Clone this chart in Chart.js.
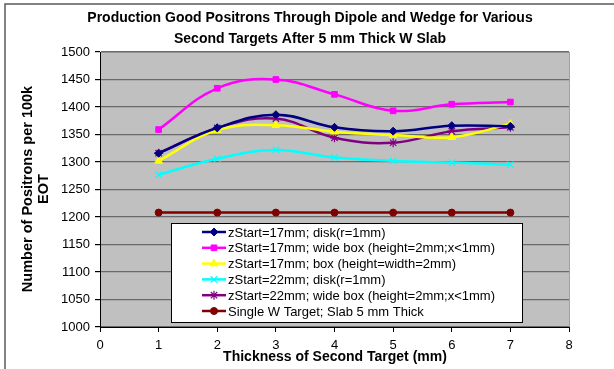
<!DOCTYPE html>
<html>
<head>
<meta charset="utf-8">
<script src="https://cdn.jsdelivr.net/npm/chart.js@4/dist/chart.umd.min.js"></script>
<style>
  html, body { margin: 0; padding: 0; background: #fff; }
  canvas { display: block; }
</style>
</head>
<body>
<canvas id="chart" width="614" height="369"></canvas>
<script>
const thickness = [1, 2, 3, 4, 5, 6, 7];
const z17Disk = [1316, 1362, 1386, 1363, 1356, 1366, 1365];
const z17WideBox = [1359, 1434, 1450, 1423, 1393, 1405, 1409];
const z17Box = [1302, 1358, 1367, 1355, 1349, 1345, 1369];
const z22Disk = [1277, 1306, 1322, 1308, 1302, 1299, 1295];
const z22WideBox = [1316, 1362, 1379, 1344, 1335, 1356, 1363];
const singleW = [1208, 1208, 1208, 1208, 1208, 1208, 1208];

const seriesNames = [
  'zStart=17mm; disk(r=1mm)',
  'zStart=17mm; wide box (height=2mm;x<1mm)',
  'zStart=17mm; box (height=width=2mm)',
  'zStart=22mm; disk(r=1mm)',
  'zStart=22mm; wide box (height=2mm;x<1mm)',
  'Single W Target; Slab 5 mm Thick'
];
const titleLines = ['Production Good Positrons Through Dipole and Wedge for Various', 'Second Targets After 5 mm Thick W Slab'];
const yTitleLines = ['Number of Positrons per 100k', 'EOT'];
const xTitle = 'Thickness of Second Target (mm)';

const FONT = '"Liberation Sans", Arial, sans-serif';

function pts(vals){
  return vals.map((v, i) => ({ x: thickness[i], y: v }));
}

function series(label, vals, color, style, radius, lw){
  return {
    label,
    data: pts(vals),
    borderColor: color,
    backgroundColor: color,
    pointStyle: style,
    pointRadius: radius,
    pointBorderWidth: lw || 1,
    borderWidth: 2.5,
    tension: 0.4,
    fill: false
  };
}

const datasets = [
  series(seriesNames[0], z17Disk, '#000080', 'rectRot', 4),
  series(seriesNames[1], z17WideBox, '#ff00ff', 'rect', 4),
  series(seriesNames[2], z17Box, '#ffff00', 'triangle', 4.5),
  series(seriesNames[3], z22Disk, '#00ffff', 'crossRot', 4.5, 1.2),
  series(seriesNames[4], z22WideBox, '#800080', 'star', 4.5, 1.2),
  series(seriesNames[5], singleW, '#800000', 'circle', 3.5)
];

const decor = {
  id: 'decor',
  beforeDraw(chart){
    const { ctx, chartArea: a } = chart;
    ctx.save();
    ctx.fillStyle = '#fff';
    ctx.fillRect(0, 0, chart.width, chart.height);
    ctx.strokeStyle = '#5a5a5a';
    ctx.lineWidth = 1.5;
    ctx.strokeRect(5, 4, 800, 500);
    ctx.fillStyle = '#c0c0c0';
    ctx.fillRect(a.left, a.top, a.right - a.left, a.bottom - a.top);
    ctx.strokeStyle = '#a0a0a0';
    ctx.lineWidth = 1;
    ctx.strokeRect(a.left + 0.5, a.top + 0.5, a.right - a.left, a.bottom - a.top);
    ctx.restore();
  },
  afterDraw(chart){
    const { ctx } = chart;
    ctx.save();
    ctx.fillStyle = '#000';
    ctx.textAlign = 'center';
    ctx.textBaseline = 'middle';
    ctx.font = 'bold 14px ' + FONT;
    ctx.fillText(titleLines[0], 310, 18);
    ctx.fillText(titleLines[1], 310, 39);
    ctx.fillText(xTitle, 335, 357);
    ctx.translate(28, 189);
    ctx.rotate(-Math.PI / 2);
    ctx.font = 'bold 14.5px ' + FONT;
    ctx.fillText(yTitleLines[0], 0, 0);
    ctx.fillText(yTitleLines[1], 0, 16);
    ctx.restore();

    // legend box
    const bx = 171, by = 223, bw = 351, bh = 99;
    ctx.save();
    ctx.fillStyle = '#fff';
    ctx.fillRect(bx, by, bw, bh);
    ctx.strokeStyle = '#000';
    ctx.lineWidth = 1;
    ctx.strokeRect(bx + 0.5, by + 0.5, bw, bh);
    ctx.font = '13px ' + FONT;
    ctx.textAlign = 'left';
    ctx.textBaseline = 'middle';
    chart.data.datasets.forEach((ds, i) => {
      const y = 232 + i * 15.8;
      ctx.strokeStyle = ds.borderColor;
      ctx.lineWidth = 2.5;
      ctx.beginPath();
      ctx.moveTo(202, y);
      ctx.lineTo(226, y);
      ctx.stroke();
      ctx.lineWidth = ds.pointBorderWidth;
      ctx.fillStyle = ds.backgroundColor;
      Chart.helpers.drawPoint(ctx, {
        pointStyle: ds.pointStyle,
        radius: ds.pointRadius,
        rotation: 0,
        borderWidth: ds.pointBorderWidth
      }, 214, y);
      ctx.fillStyle = '#000';
      ctx.fillText(ds.label, 228, y + 1);
    });
    ctx.restore();
  }
};

new Chart(document.getElementById('chart'), {
  type: 'line',
  data: { datasets },
  options: {
    responsive: false,
    animation: false,
    layout: { padding: { left: 0, top: 52, right: 45, bottom: 0 } },
    plugins: { legend: { display: false }, title: { display: false }, tooltip: { enabled: false } },
    scales: {
      x: {
        type: 'linear',
        min: 0,
        max: 8,
        ticks: { stepSize: 1, color: '#000', font: { family: FONT, size: 13 }, padding: 6 },
        grid: { drawOnChartArea: false, drawTicks: true, tickLength: 5, color: '#000', tickColor: '#000' },
        border: { color: '#000', width: 1 },
        afterFit(scale){ scale.height = 42; }
      },
      y: {
        min: 1000,
        max: 1500,
        ticks: { stepSize: 50, color: '#000', font: { family: FONT, size: 13 }, padding: 5, callback: v => String(v) },
        grid: { color: '#6a6a6a', lineWidth: 1.2, tickLength: 5, tickColor: '#000' },
        border: { color: '#000', width: 1 },
        afterFit(scale){ scale.width = 100; }
      }
    }
  },
  plugins: [decor]
});
</script>
</body>
</html>
